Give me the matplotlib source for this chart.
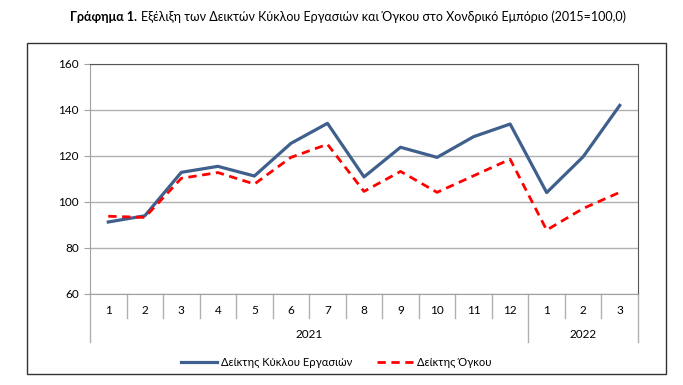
import numpy as np
import matplotlib.pyplot as plt
from matplotlib.patches import Rectangle
import matplotlib.transforms as mtransforms

plt.rcParams['font.family'] = ['Lato', 'DejaVu Sans']

# Δεδομένα
months = ['1', '2', '3', '4', '5', '6', '7', '8', '9', '10', '11', '12', '1', '2', '3']
years = ['2021', '2022']
year_counts = [12, 3]
kyklos = [91.3, 94.0, 112.9, 115.5, 111.3, 125.5, 134.2, 110.9, 123.8, 119.4,
          128.4, 133.9, 104.1, 119.7, 142.0]
ogkos = [93.8, 93.3, 110.3, 112.8, 107.8, 119.4, 125.1, 104.6, 113.3, 104.2,
         111.4, 118.6, 87.8, 97.2, 104.2]
y_ticks = [60, 80, 100, 120, 140, 160]

fig = plt.figure(figsize=(6.83, 3.85), dpi=100)
ax = fig.add_axes([90 / 683, 1 - 294 / 385, 548 / 683, 230 / 385])

x = np.arange(len(months)) + 0.5
ax.plot(x, kyklos, color='#3f5f8d', lw=2.3, label='Δείκτης Κύκλου Εργασιών')
ax.plot(x, ogkos, color='#ff0000', lw=2.0, ls=(0, (3, 2)), label='Δείκτης Όγκου')

ax.set_xlim(0, len(months))
ax.set_ylim(60, 160)
ax.set_yticks(y_ticks)
ax.tick_params(axis='y', labelsize=8.5, length=4, color='#a0a0a0', pad=4)
ax.set_xticks([])
ax.grid(axis='y', color='#b0b0b0', lw=1)
ax.set_axisbelow(True)
for s in ['top', 'right']:
    ax.spines[s].set_color('#555555')
for s in ['left', 'bottom']:
    ax.spines[s].set_color('#a0a0a0')

# Κατηγορίες στον άξονα x
tr = mtransforms.blended_transform_factory(ax.transData, ax.transAxes)
for i, m in enumerate(months):
    ax.text(i + 0.5, -0.07, m, transform=tr, ha='center', va='center', fontsize=8.5)
edges = np.cumsum([0] + year_counts)
for i in range(len(months) + 1):
    low = -0.209 if i in edges else -0.104
    ax.plot([i, i], [0, low], transform=tr, color='#b0b0b0', lw=1, clip_on=False)
for j, yr in enumerate(years):
    ax.text((edges[j] + edges[j + 1]) / 2, -0.178, yr, transform=tr,
            ha='center', va='center', fontsize=8.5)

# Τίτλος
t1 = fig.text(70 / 683, 1 - 17 / 385, 'Γράφημα 1.', fontsize=9, fontweight='bold', va='center')
fig.texts.append(t1)
ax.annotate('Εξέλιξη των Δεικτών Κύκλου Εργασιών και Όγκου στο Χονδρικό Εμπόριο (2015=100,0)',
            xy=(1, 0.5), xycoords=t1, xytext=(3, 0), textcoords='offset points',
            fontsize=9, va='center', annotation_clip=False)
fig.texts.remove(t1)

fig.patches.append(Rectangle((27 / 683, 11 / 385), 639 / 683, 331 / 385,
                             transform=fig.transFigure, fill=False,
                             edgecolor='#333333', lw=1))

fig.legend(loc='center', bbox_to_anchor=(336 / 683, 1 - 362 / 385), ncol=2, frameon=False,
           fontsize=8, handlelength=3.25, columnspacing=2.25, handletextpad=0.35)

fig.savefig('out.png', dpi=100)
